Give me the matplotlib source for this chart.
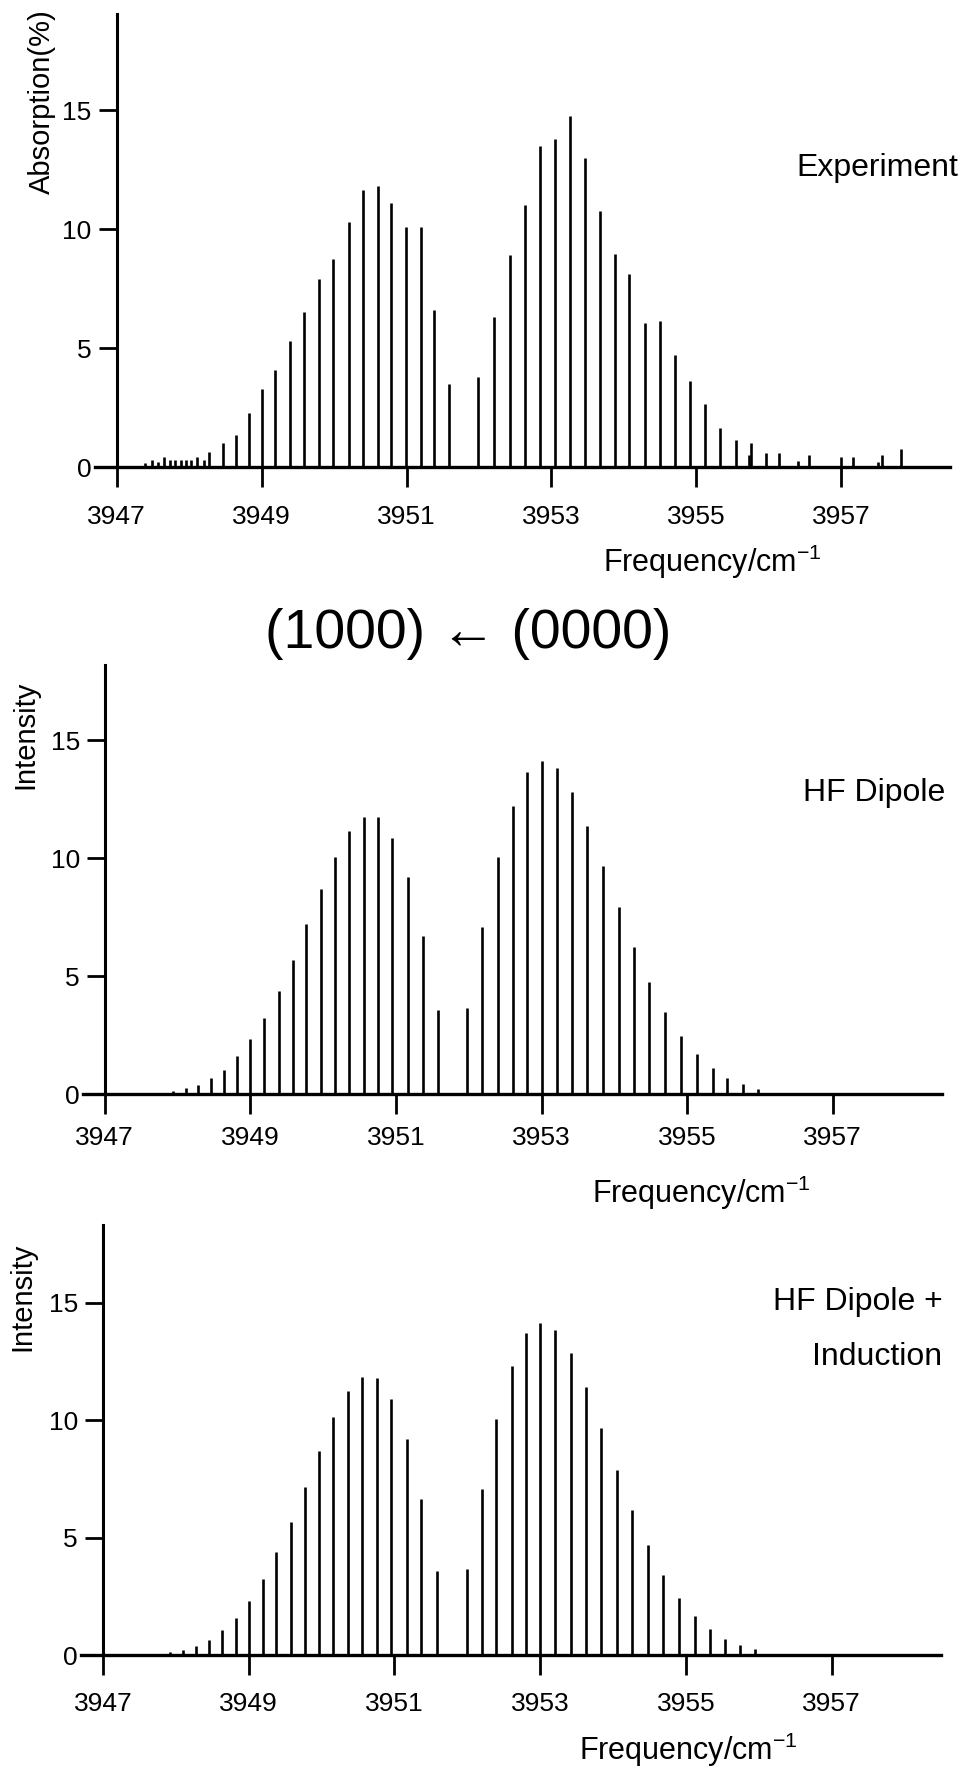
import numpy as np
import matplotlib
matplotlib.use("Agg")
import matplotlib.pyplot as plt

plt.rcParams['font.family'] = ['Liberation Sans', 'DejaVu Sans']
plt.rcParams['mathtext.fontset'] = 'custom'
plt.rcParams['mathtext.rm'] = 'Liberation Sans'
plt.rcParams['mathtext.it'] = 'Liberation Sans:italic'
plt.rcParams['mathtext.bf'] = 'Liberation Sans:bold'

#experiment: frequency (cm-1), absorption (%)
expFreq = [3947.39, 3947.49, 3947.57, 3947.65, 3947.73, 3947.81, 3947.89, 3947.96,
           3948.03, 3948.11, 3948.20, 3948.28, 3948.46, 3948.64, 3948.83, 3949.00,
           3949.19, 3949.39, 3949.59, 3949.79, 3949.99, 3950.20, 3950.40, 3950.60,
           3950.79, 3950.99, 3951.20, 3951.38, 3951.58, 3951.99, 3952.21, 3952.43,
           3952.63, 3952.84, 3953.05, 3953.26, 3953.46, 3953.67, 3953.87, 3954.07,
           3954.29, 3954.50, 3954.70, 3954.91, 3955.12, 3955.33, 3955.55, 3955.72,
           3955.75, 3955.96, 3956.14, 3956.40, 3956.56, 3956.99, 3957.16, 3957.50,
           3957.56, 3957.83]
expAbs = [0.15, 0.28, 0.20, 0.40, 0.28, 0.30, 0.28, 0.28,
          0.30, 0.40, 0.30, 0.65, 1.00, 1.35, 2.25, 3.30,
          4.10, 5.30, 6.50, 7.90, 8.75, 10.30, 11.65, 11.80,
          11.10, 10.10, 10.10, 6.60, 3.50, 3.80, 6.30, 8.90,
          11.00, 13.50, 13.80, 14.75, 13.00, 10.75, 8.95, 8.10,
          6.05, 6.15, 4.70, 3.60, 2.65, 1.65, 1.15, 0.50,
          1.00, 0.57, 0.58, 0.25, 0.50, 0.40, 0.40, 0.20,
          0.50, 0.75]

#HF dipole calculation
dipFreq = [3947.94, 3948.11, 3948.28, 3948.46, 3948.64, 3948.82, 3949.00, 3949.19,
           3949.39, 3949.58, 3949.77, 3949.97, 3950.16, 3950.36, 3950.56, 3950.75,
           3950.95, 3951.16, 3951.37, 3951.58, 3951.98, 3952.18, 3952.40, 3952.60,
           3952.80, 3953.00, 3953.21, 3953.42, 3953.63, 3953.85, 3954.06, 3954.27,
           3954.48, 3954.70, 3954.91, 3955.13, 3955.35, 3955.55, 3955.76, 3955.97]
dipInt = [0.14, 0.24, 0.39, 0.68, 1.03, 1.62, 2.32, 3.23,
          4.37, 5.68, 7.19, 8.69, 10.04, 11.15, 11.74, 11.73,
          10.86, 9.18, 6.69, 3.56, 3.66, 7.09, 10.06, 12.22,
          13.65, 14.11, 13.80, 12.80, 11.36, 9.68, 7.93, 6.21,
          4.73, 3.46, 2.44, 1.69, 1.10, 0.69, 0.41, 0.23]

#HF dipole + induction calculation
indFreq = [3947.92, 3948.10, 3948.28, 3948.45, 3948.63, 3948.82, 3949.00, 3949.20,
           3949.38, 3949.58, 3949.78, 3949.97, 3950.16, 3950.37, 3950.56, 3950.76,
           3950.96, 3951.17, 3951.37, 3951.58, 3951.99, 3952.20, 3952.40, 3952.61,
           3952.81, 3953.00, 3953.21, 3953.43, 3953.63, 3953.84, 3954.05, 3954.26,
           3954.48, 3954.68, 3954.91, 3955.12, 3955.33, 3955.54, 3955.74, 3955.95]
indInt = [0.11, 0.21, 0.40, 0.64, 1.05, 1.58, 2.30, 3.25,
          4.39, 5.67, 7.16, 8.68, 10.11, 11.22, 11.82, 11.77,
          10.91, 9.21, 6.66, 3.59, 3.67, 7.08, 10.06, 12.29,
          13.69, 14.15, 13.84, 12.86, 11.40, 9.67, 7.86, 6.18,
          4.70, 3.42, 2.42, 1.65, 1.10, 0.70, 0.44, 0.25]

xticks = [3947, 3949, 3951, 3953, 3955, 3957]
yticks = [0, 5, 10, 15]

W, H = 963, 1776
fig = plt.figure(figsize=(W / 100, H / 100), dpi=100)

def box(left, top, right, bottom):
    return [left / W, 1 - bottom / H, (right - left) / W, (bottom - top) / H]

def ftext(x, y, s, **kw):
    fig.text(x / W, 1 - y / H, s, **kw)

panels = [
    (box(95, 14, 950, 467), expFreq, expAbs, 19.05, 12.8),
    (box(83, 665, 942, 1094), dipFreq, dipInt, 18.18, 8.5),
    (box(81, 1225, 941, 1655), indFreq, indInt, 18.3, 11.9),
]

for rect, f, v, ytop, xpad in panels:
    ax = fig.add_axes(rect)
    ax.vlines(f, 0, v, color="black", lw=1.9)
    ax.set_xlim(3946.7, 3958.5)
    ax.set_ylim(0, ytop)
    ax.spines["top"].set_visible(False)
    ax.spines["right"].set_visible(False)
    ax.spines["left"].set_position(("data", 3947))
    ax.spines["left"].set_linewidth(2.2)
    ax.spines["bottom"].set_linewidth(2.4)
    ax.set_xticks(xticks, [str(t) for t in xticks])
    ax.set_yticks(yticks, [str(t) for t in yticks])
    ax.tick_params(axis="x", direction="out", length=14.5, width=2.0, pad=xpad, labelsize=19)
    ax.tick_params(axis="y", direction="out", length=13, width=2.0, pad=5, labelsize=19)
    ax.set_facecolor("none")

ftext(42, 102, "Absorption(%)", rotation=90, ha="center", va="center", fontsize=21)
ftext(25, 735, "Intensity", rotation=90, ha="center", va="center", fontsize=21)
ftext(22, 1297, "Intensity", rotation=90, ha="center", va="center", fontsize=21)

ftext(712, 562, "Frequency/cm$^{-1}$", ha="center", va="center", fontsize=22)
ftext(701, 1193, "Frequency/cm$^{-1}$", ha="center", va="center", fontsize=22)
ftext(688, 1750, "Frequency/cm$^{-1}$", ha="center", va="center", fontsize=22)

ftext(958, 168, "Experiment", ha="right", va="center", fontsize=23)
ftext(945, 793, "HF Dipole", ha="right", va="center", fontsize=23)
ftext(943, 1302, "HF Dipole +", ha="right", va="center", fontsize=23)
ftext(942, 1357, "Induction", ha="right", va="center", fontsize=23)

ftext(468, 634, "(1000) \u2190 (0000)", ha="center", va="center", fontsize=40)

plt.savefig("out.png", dpi=100)
